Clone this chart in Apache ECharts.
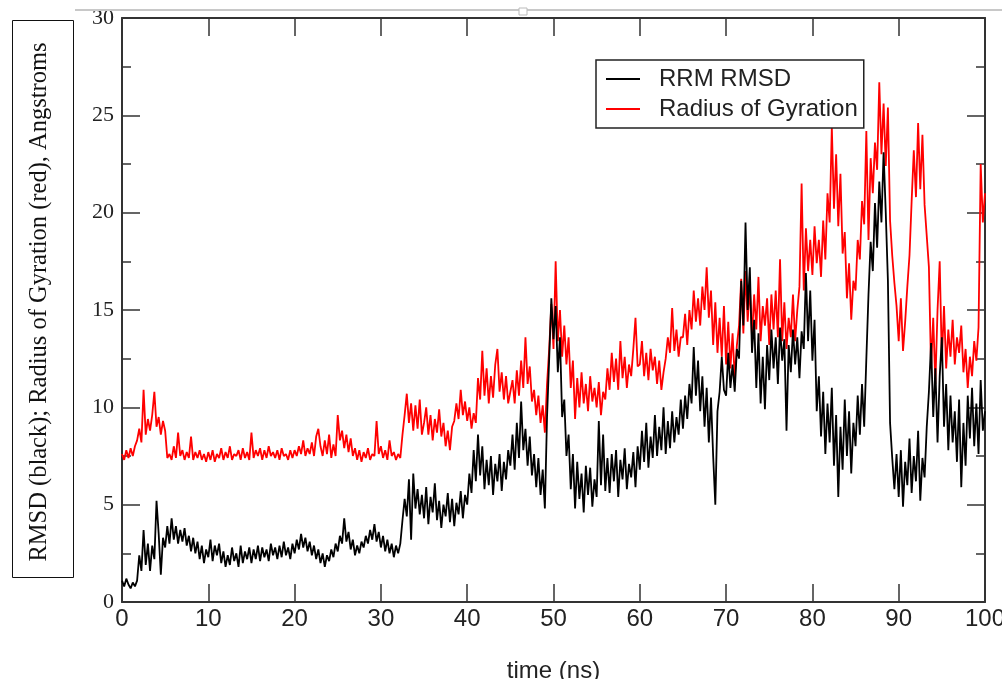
<!DOCTYPE html>
<html>
<head>
<meta charset="utf-8">
<script src="https://cdn.jsdelivr.net/npm/echarts@6/dist/echarts.min.js"></script>
<style>
html,body{margin:0;padding:0;background:#fff;overflow:hidden;}
#chart{width:1002px;height:679px;}
</style>
</head>
<body>
<div id="chart"></div>
<script>
// time step of the trajectory samples (ns)
var timeStep = 0.25;

var seriesNames = ['RRM RMSD', 'Radius of Gyration'];
var xTicks = [0, 10, 20, 30, 40, 50, 60, 70, 80, 90, 100];
var yTicks = [0, 5, 10, 15, 20, 25, 30];

// RMSD (black), sampled every 0.25 ns from 0 to 100 ns
var rmsd = [
1.1,0.8,1.2,0.9,0.7,1.0,0.8,1.1,2.4,1.6,3.7,1.9,3.0,1.6,2.9,2.2,5.2,3.5,1.4,3.3,
2.8,3.9,3.0,4.3,3.2,3.9,3.0,3.7,3.1,3.8,2.9,3.4,2.6,3.3,2.5,3.1,2.2,2.9,2.0,2.7,
2.3,3.2,2.1,2.9,2.4,3.0,2.0,2.6,1.8,2.4,1.9,2.8,2.1,2.5,1.8,2.9,2.0,2.6,2.2,2.8,
2.0,2.7,2.2,2.9,2.1,2.8,2.3,2.7,2.1,3.0,2.4,2.8,2.2,2.9,2.3,3.1,2.4,2.8,2.2,3.0,
2.5,3.2,2.7,3.5,2.8,3.3,2.6,3.1,2.4,2.9,2.2,2.7,2.0,2.5,1.8,2.4,2.1,2.7,2.3,3.0,
2.6,3.4,3.0,4.3,3.1,3.6,2.7,3.2,2.4,2.9,2.5,3.1,2.8,3.4,3.0,3.7,3.2,4.0,3.1,3.6,
2.8,3.4,2.6,3.2,2.5,3.0,2.3,2.9,2.5,3.0,4.2,5.3,4.4,6.3,3.2,6.6,4.8,5.8,4.5,5.5,
4.3,5.9,4.0,5.4,4.6,6.1,4.2,5.2,3.8,5.0,4.4,5.6,4.1,5.3,3.9,5.1,4.5,5.7,4.3,5.5,
5.0,6.6,5.6,7.8,6.2,8.6,6.5,8.0,5.8,7.3,6.0,7.5,5.5,7.1,6.2,7.6,5.7,7.2,6.3,7.8,
7.0,8.6,6.8,9.2,7.4,10.3,7.8,8.9,7.0,8.5,6.5,7.6,5.9,7.4,5.5,6.8,4.8,9.5,12.5,15.6,
13.5,15.2,11.8,13.6,9.5,10.4,7.5,8.6,5.8,7.6,4.8,7.2,5.3,6.6,4.6,7.0,5.5,6.9,4.9,6.3,
5.4,9.3,6.0,8.6,5.7,7.4,5.6,7.6,6.2,7.8,5.4,7.3,6.3,7.9,5.8,7.1,6.4,7.7,5.9,8.0,
6.8,8.8,7.2,9.2,6.9,8.5,7.4,9.6,7.5,9.0,7.8,10.0,7.6,9.3,7.9,9.8,8.2,9.5,8.6,10.4,
8.9,10.6,9.4,11.2,10.2,13.1,10.6,12.4,9.8,11.6,9.0,11.0,8.2,10.5,7.5,5.0,9.8,10.8,12.6,10.9,
10.6,12.8,11.0,12.2,10.8,13.0,12.5,16.5,14.2,19.5,15.0,17.2,12.8,14.5,11.0,13.8,10.2,12.6,9.9,13.2,
11.4,14.0,12.0,13.6,11.2,14.1,12.4,13.5,8.8,13.2,11.8,14.0,12.2,13.6,11.5,13.9,13.0,16.9,13.4,16.0,
12.4,14.5,9.8,11.6,8.5,10.8,7.6,10.2,8.2,11.0,7.0,9.6,5.4,9.0,6.8,10.4,7.5,9.8,6.6,9.2,
8.0,10.6,8.6,11.2,9.0,12.5,15.8,18.5,17.0,20.5,18.2,21.6,19.5,23.1,20.0,16.5,9.2,7.4,5.8,7.6,
5.4,7.8,4.9,7.2,6.0,8.4,5.6,7.5,6.2,8.8,5.2,7.4,6.4,9.0,10.8,13.3,9.5,12.0,8.2,11.6,
13.6,9.0,11.2,7.8,10.6,8.2,9.8,7.2,10.4,5.9,9.2,7.0,10.6,8.4,11.0,8.0,10.2,7.6,11.4,8.8,
9.8
];

// Radius of gyration (red), sampled every 0.25 ns from 0 to 100 ns
var gyration = [
7.6,7.3,7.8,7.4,7.9,7.5,8.0,8.3,8.9,8.2,10.9,8.6,9.4,8.8,9.6,10.8,9.0,9.5,8.6,9.3,
8.8,7.4,7.6,7.3,8.0,7.4,8.7,7.5,7.8,7.3,7.7,7.4,8.5,7.3,7.7,7.4,7.8,7.3,7.6,7.2,
7.7,7.3,7.8,7.2,7.6,7.4,7.9,7.3,7.7,7.4,8.0,7.3,7.6,7.5,7.8,7.3,7.9,7.4,7.7,7.3,
8.7,7.4,7.8,7.5,7.9,7.3,7.8,7.4,8.0,7.5,7.7,7.4,7.8,7.3,7.9,7.5,7.6,7.3,7.8,7.4,
7.8,7.5,8.0,7.6,8.3,7.5,7.9,7.6,8.2,7.5,8.5,8.9,8.0,7.5,8.3,7.6,8.6,7.4,8.1,7.5,
9.6,8.3,8.8,7.9,8.6,7.7,8.4,7.5,7.9,7.3,7.8,7.2,7.7,7.4,7.9,7.3,7.6,7.5,9.3,7.6,
8.0,7.4,7.8,7.3,8.3,7.5,7.7,7.3,7.6,7.4,8.6,9.6,10.7,9.2,10.2,8.8,10.1,8.9,10.4,8.6,
9.2,10.0,8.6,9.6,8.3,9.4,8.7,9.9,8.5,9.2,8.0,8.8,7.8,9.0,9.3,10.2,9.4,10.9,9.6,10.3,
9.3,10.0,8.9,9.7,9.2,11.5,10.4,12.9,10.6,12.0,10.2,11.6,10.5,12.2,13.0,10.8,11.8,10.4,11.6,10.2,
10.8,11.4,10.2,11.9,10.6,12.4,11.0,13.6,11.2,12.1,10.3,10.9,9.6,10.6,9.2,10.1,8.7,11.2,13.0,15.3,
13.0,17.5,13.4,15.0,12.6,14.2,12.2,13.6,11.0,12.4,9.4,11.5,10.0,11.8,10.2,11.2,9.8,11.6,10.3,11.0,
10.0,11.3,9.6,10.8,10.4,12.0,10.9,12.8,11.3,12.5,10.9,13.4,11.5,12.6,11.0,12.2,11.6,13.0,14.6,12.1,
12.2,13.4,11.6,12.8,11.4,13.0,11.9,12.6,11.2,12.4,10.9,11.8,12.5,13.6,12.8,15.1,12.9,14.0,12.6,13.6,
13.6,14.8,13.2,15.0,14.0,16.0,14.4,15.6,14.2,16.2,15.0,17.2,14.6,16.0,13.2,15.4,12.8,14.6,12.6,15.2,
12.2,14.4,12.0,13.8,11.5,13.2,14.2,16.6,13.8,17.0,14.4,16.2,13.6,15.8,14.0,16.7,13.4,15.2,14.2,15.6,
13.2,15.8,14.0,16.0,13.6,17.6,13.4,15.4,13.0,14.6,13.6,15.8,13.4,15.0,16.2,21.5,16.0,19.2,17.0,18.6,
16.8,19.3,17.4,18.6,16.7,19.6,17.6,21.0,19.5,24.4,20.2,23.0,19.3,22.0,17.9,19.0,15.6,17.4,14.5,16.5,
16.0,18.6,17.6,20.6,19.4,24.2,18.6,22.8,21.0,23.6,22.2,26.7,23.0,25.6,22.4,25.4,19.6,17.8,16.4,15.2,
13.4,15.6,12.9,14.4,16.2,17.8,20.6,23.2,20.8,24.6,21.2,24.0,20.4,18.8,17.2,12.0,14.6,11.2,15.0,17.5,
12.4,15.2,12.0,14.0,12.6,14.5,12.2,13.6,12.8,14.2,11.8,13.0,11.0,12.6,11.6,13.4,12.4,14.1,22.5,19.5,
21.0
];

function pairs(arr) {
  var out = [];
  for (var i = 0; i < arr.length; i++) out.push([i * timeStep, arr[i]]);
  return out;
}

var chart = echarts.init(document.getElementById('chart'), null, {renderer: 'canvas', width: 1002, height: 679});
var sans = '"Liberation Sans", Arial, sans-serif';
var serif = '"Liberation Serif", "Times New Roman", serif';
var frame = '#333';

var axisCommon = {
  min: 0,
  splitLine: {show: false},
  axisLine: {show: true, onZero: false, lineStyle: {color: frame, width: 2}}
};

var option = {
  animation: false,
  backgroundColor: '#fff',
  grid: {left: 122, right: 17, top: 18, bottom: 77, containLabel: false, outerBoundsMode: 'none'},
  legend: {
    data: seriesNames,
    orient: 'vertical',
    left: 596,
    top: 60,
    padding: [7, 6, 7, 10],
    itemGap: 6,
    itemWidth: 34,
    itemHeight: 2,
    icon: 'rect',
    backgroundColor: '#fff',
    borderColor: '#222',
    borderWidth: 1.5,
    borderRadius: 0,
    textStyle: {fontFamily: sans, fontSize: 24, color: '#222', padding: [0, 0, 0, 14]}
  },
  xAxis: [
    Object.assign({}, axisCommon, {
      type: 'value', position: 'bottom', max: 100, interval: 10,
      axisTick: {show: true, inside: true, length: 18, lineStyle: {color: frame, width: 1.5}},
      minorTick: {show: false},
      axisLabel: {fontFamily: sans, fontSize: 24, color: '#222', margin: 5,
        formatter: function (v) { return xTicks.indexOf(v) >= 0 ? String(v) : ''; }},
      name: 'time (ns)', nameLocation: 'middle', nameGap: 57,
      nameTextStyle: {fontFamily: sans, fontSize: 24, color: '#222'}
    }),
    Object.assign({}, axisCommon, {
      type: 'value', position: 'top', max: 100, interval: 10,
      axisTick: {show: true, inside: true, length: 18, lineStyle: {color: frame, width: 1.5}},
      axisLabel: {show: false}
    })
  ],
  yAxis: [
    Object.assign({}, axisCommon, {
      type: 'value', position: 'left', max: 30, interval: 5,
      axisTick: {show: true, inside: true, length: 18, lineStyle: {color: frame, width: 1.5}},
      minorTick: {show: true, splitNumber: 2, length: 9, lineStyle: {color: frame, width: 1.5}},
      axisLabel: {fontFamily: serif, fontSize: 22, color: '#222', margin: 8,
        formatter: function (v) { return yTicks.indexOf(v) >= 0 ? String(v) : ''; }}
    }),
    Object.assign({}, axisCommon, {
      type: 'value', position: 'right', max: 30, interval: 5,
      axisTick: {show: true, inside: true, length: 18, lineStyle: {color: frame, width: 1.5}},
      minorTick: {show: true, splitNumber: 2, length: 9, lineStyle: {color: frame, width: 1.5}},
      axisLabel: {show: false}
    })
  ],
  series: [
    {
      name: seriesNames[1], type: 'line', data: pairs(gyration),
      xAxisIndex: 0, yAxisIndex: 0, showSymbol: false, symbol: 'none',
      lineStyle: {color: '#ff0000', width: 1.8}, itemStyle: {color: '#ff0000'}, z: 2
    },
    {
      name: seriesNames[0], type: 'line', data: pairs(rmsd),
      xAxisIndex: 0, yAxisIndex: 0, showSymbol: false, symbol: 'none',
      lineStyle: {color: '#000000', width: 1.8}, itemStyle: {color: '#000000'}, z: 3
    }
  ],
  graphic: [
    {type: 'line', shape: {x1: 75, y1: 10, x2: 1002, y2: 10}, style: {stroke: '#c8c8c8', lineWidth: 2}, z: 10},
    {type: 'rect', shape: {x: 519, y: 8, width: 8, height: 7}, style: {fill: '#fff', stroke: '#bbb', lineWidth: 1}, z: 11},
    {type: 'rect', shape: {x: 12.5, y: 20.5, width: 61, height: 557}, style: {fill: '#fff', stroke: '#111', lineWidth: 1}, z: 10},
    {type: 'text', x: 40, y: 302, rotation: Math.PI / 2, z: 11,
      style: {text: 'RMSD (black); Radius of Gyration (red), Angstroms', fontFamily: serif, fontSize: 24.5,
        fill: '#111', textAlign: 'center', textVerticalAlign: 'middle'}}
  ]
};
chart.setOption(option);
</script>
</body>
</html>
